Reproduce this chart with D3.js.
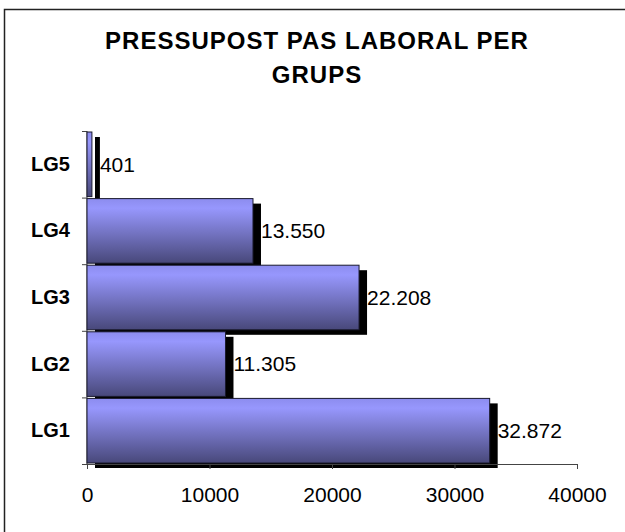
<!DOCTYPE html>
<meta charset="utf-8">
<style>
body {
  margin: 0;
  background: #fff;
  font-family: "Liberation Sans", Arial, sans-serif;
}
.axis path, .axis line {
  stroke: #444;
  stroke-width: 1;
}
</style>
<body>
<script src="https://d3js.org/d3.v7.min.js"></script>
<script>

var width = 625,
    height = 532;

var groups = ["LG1", "LG2", "LG3", "LG4", "LG5"];
var values = [32872, 11305, 22208, 13550, 401];
var valueLabels = ["32.872", "11.305", "22.208", "13.550", "401"];
var ticks = [0, 10000, 20000, 30000, 40000];
var titleLines = ["PRESSUPOST PAS LABORAL PER", "GRUPS"];

var plotLeft = 87, plotRight = 577, plotTop = 131, plotBottom = 464;

var svg = d3.select("body").append("svg")
    .attr("width", width)
    .attr("height", height);

var defs = svg.append("defs");
var grad = defs.append("linearGradient")
    .attr("id", "barGrad")
    .attr("x1", 0).attr("y1", 0).attr("x2", 0).attr("y2", 1);
grad.append("stop").attr("offset", "0%").attr("stop-color", "#8c8cee");
grad.append("stop").attr("offset", "15%").attr("stop-color", "#9797fd");
grad.append("stop").attr("offset", "100%").attr("stop-color", "#48487a");

// chart frame (only top and left edges visible)
svg.append("path")
    .attr("d", "M4.5," + (height + 5) + "V9.5H" + (width + 5))
    .attr("fill", "none")
    .attr("stroke", "#222")
    .attr("stroke-width", 1.5);

// title
svg.append("g").selectAll("text")
    .data(titleLines)
  .enter().append("text")
    .attr("x", 317)
    .attr("y", function(d, i) { return 49 + i * 34; })
    .attr("text-anchor", "middle")
    .attr("font-size", 24)
    .attr("font-weight", "bold")
    .attr("letter-spacing", 1)
    .text(function(d) { return d; });

var x = d3.scaleLinear()
    .domain([0, 40000])
    .range([plotLeft, plotRight]);

var y = d3.scaleBand()
    .domain(groups.slice().reverse())
    .range([plotTop, plotBottom]);

var data = groups.map(function(g, i) {
  return {group: g, value: values[i], label: valueLabels[i]};
});

// shadows
svg.append("g").selectAll("rect")
    .data(data)
  .enter().append("rect")
    .attr("x", x(0) + 8)
    .attr("y", function(d) { return y(d.group) + 1 + 5; })
    .attr("width", function(d) { return x(d.value) - x(0); })
    .attr("height", y.bandwidth() - 2)
    .attr("fill", "#000");

// axes
var xAxis = svg.append("g")
    .attr("class", "axis")
    .attr("transform", "translate(0," + plotBottom + ")")
    .call(d3.axisBottom(x).tickValues(ticks).tickFormat(d3.format("d")).tickSizeOuter(0).tickSize(5).tickPadding(18));
xAxis.selectAll("text")
    .attr("font-size", 21)
    .attr("font-family", "Liberation Sans, Arial, sans-serif")
    .attr("fill", "#000");

var yAxis = svg.append("g")
    .attr("class", "axis")
    .attr("transform", "translate(" + plotLeft + ",0)")
    .call(d3.axisLeft(y).tickSize(0).tickPadding(17));
yAxis.selectAll("text")
    .attr("font-size", 20)
    .attr("font-weight", "bold")
    .attr("font-family", "Liberation Sans, Arial, sans-serif")
    .attr("fill", "#000");
yAxis.select(".domain").remove();
yAxis.append("line")
    .attr("stroke", "#444")
    .attr("y1", plotTop).attr("y2", plotBottom);
yAxis.selectAll(".bound")
    .data(groups.map(function(g) { return y(g); }).concat([plotBottom]))
  .enter().append("line")
    .attr("class", "bound")
    .attr("stroke", "#444")
    .attr("x1", -5).attr("x2", 0)
    .attr("y1", function(d) { return d + 0.5; })
    .attr("y2", function(d) { return d + 0.5; });

// bars
svg.append("g").selectAll("rect")
    .data(data)
  .enter().append("rect")
    .attr("x", x(0))
    .attr("y", function(d) { return y(d.group) + 1; })
    .attr("width", function(d) { return x(d.value) - x(0); })
    .attr("height", y.bandwidth() - 2)
    .attr("fill", "url(#barGrad)")
    .attr("stroke", "#1a1a2e")
    .attr("stroke-width", 1);

// value labels
svg.append("g").selectAll("text")
    .data(data)
  .enter().append("text")
    .attr("x", function(d) { return x(d.value) + 8; })
    .attr("y", function(d) { return y(d.group) + y.bandwidth() / 2; })
    .attr("dy", "0.35em")
    .attr("font-size", 21)
    .text(function(d) { return d.label; });

</script>
